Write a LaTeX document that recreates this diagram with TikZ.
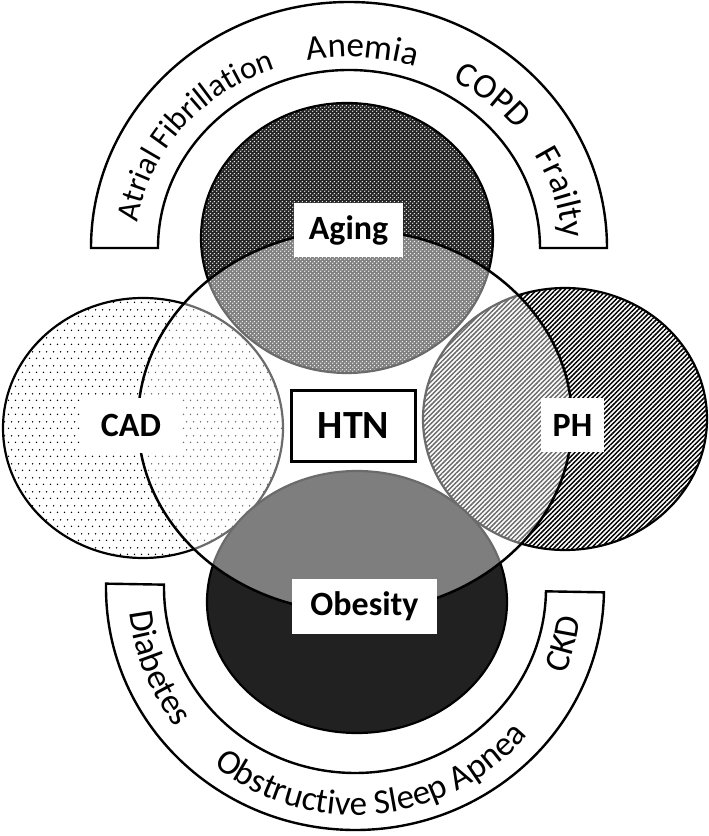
\documentclass[tikz,border=0pt]{standalone}
\usepackage{fontspec}
\setmainfont{Carlito}
\usetikzlibrary{patterns.meta,decorations.text}
\newcommand\bandfnt{\fontsize{35}{35}\selectfont}
\newcommand\bandfntsm{\fontsize{32}{32}\selectfont}
\tikzdeclarepattern{
  name=cadDots, type=uncolored,
  bottom left={(0pt,0pt)}, top right={(7pt,14pt)},
  tile size={(7pt,14pt)},
  code={
    \fill (1.75pt,1.75pt) circle (0.9pt);
    \fill (5.25pt,8.75pt) circle (0.9pt);
  }
}
\tikzdeclarepattern{
  name=agingDots, type=uncolored,
  bottom left={(0pt,0pt)}, top right={(4pt,4pt)},
  tile size={(4pt,4pt)},
  code={
    \fill (1pt,1pt) circle (0.85pt);
    \fill (3pt,3pt) circle (0.85pt);
  }
}
\begin{document}
\begin{tikzpicture}[x=1pt,y=1pt,
  ring/.style={draw=black, line width=2.2pt},
  band/.style={draw=black, line width=2.4pt, fill=white},
  lab/.style={fill=white, inner sep=0pt, font=\bfseries\fontsize{34}{34}\selectfont},
  htnbox/.style={draw=black, line width=3pt, fill=white, inner sep=0pt, font=\bfseries\fontsize{40}{40}\selectfont},
  bandtext/.style={decorate, decoration={text along path, text align=center, text={|\bandfnt|#1}}},
  bandtextsm/.style={decorate, decoration={text along path, text align=center, text={|\bandfntsm|#1}}}
]
\useasboundingbox (0,0) rectangle (709,836);
% top arch
\path[band] (607,588) arc[start angle=0,end angle=180,x radius=258,y radius=246]
  -- (158,588) arc[start angle=180,end angle=0,x radius=191,y radius=178] -- cycle;
\path[shift={(349,588)}, bandtextsm=Atrial Fibrillation] ({213*cos(187)},{191*sin(187)}) arc[start angle=187,end angle=97,x radius=213,y radius=191];
\path[shift={(349,588)}, bandtext=Anemia] ({213*cos(111.4)},{191*sin(111.4)}) arc[start angle=111.4,end angle=61.4,x radius=213,y radius=191];
\path[shift={(349,588)}, bandtext=COPD] ({213*cos(74)},{191*sin(74)}) arc[start angle=74,end angle=24,x radius=213,y radius=191];
\path[shift={(349,588)}, bandtext=Frailty] ({213*cos(40.9)},{191*sin(40.9)}) arc[start angle=40.9,end angle=-9.1,x radius=213,y radius=191];
% bottom arch
\begin{scope}[rotate around={-1:(355,248)}]
\path[band] (106,248) arc[start angle=180,end angle=360,x radius=249,y radius=242]
  -- (546,248) arc[start angle=0,end angle=-180,x radius=191,y radius=185] -- cycle;
\path[shift={(355,248)}, bandtext=Diabetes] ({227*cos(178)},{227*sin(178)}) arc[start angle=178,end angle=228,radius=227];
\path[shift={(355,248)}, bandtext=Obstructive Sleep Apnea] ({227*cos(221.5)},{227*sin(221.5)}) arc[start angle=221.5,end angle=331.5,radius=227];
\path[shift={(355,248)}, bandtext=CKD] ({227*cos(326)},{227*sin(326)}) arc[start angle=326,end angle=366,radius=227];
\end{scope}
% four circles
\draw[ring, preaction={fill=white}, pattern=cadDots, pattern color=black] (143,408) ellipse [x radius=140, y radius=130];
\draw[ring, preaction={fill=white}, pattern={Lines[angle=45,distance=3.3pt,line width=1.5pt]}, pattern color=black] (565,417) ellipse [x radius=142, y radius=131];
\draw[ring, preaction={fill=black!85}, pattern=agingDots, pattern color=white] (347,598) ellipse [x radius=146, y radius=135];
\draw[ring, fill=black!87] (357,234) ellipse [x radius=150, y radius=131];
% HTN overlay
\fill[white, fill opacity=0.42] (355,415) ellipse [x radius=217, y radius=191];
\draw[line width=2.5pt] (355,415) ellipse [x radius=217, y radius=191];
% labels
\node[lab, minimum width=109pt, minimum height=54pt] (aging) at (348.5,606) {Aging};
\node[lab, minimum width=102pt, minimum height=55pt] (cad) at (131,410.5) {CAD};
\node[lab, minimum width=63pt, minimum height=54pt] (ph) at (572.5,411) {PH};
\node[lab, minimum width=145pt, minimum height=55pt] (obesity) at (364.5,229.5) {Obesity};
\node[htnbox, minimum width=124pt, minimum height=71pt] (htn) at (353.5,410) {HTN};
\end{tikzpicture}
\end{document}
